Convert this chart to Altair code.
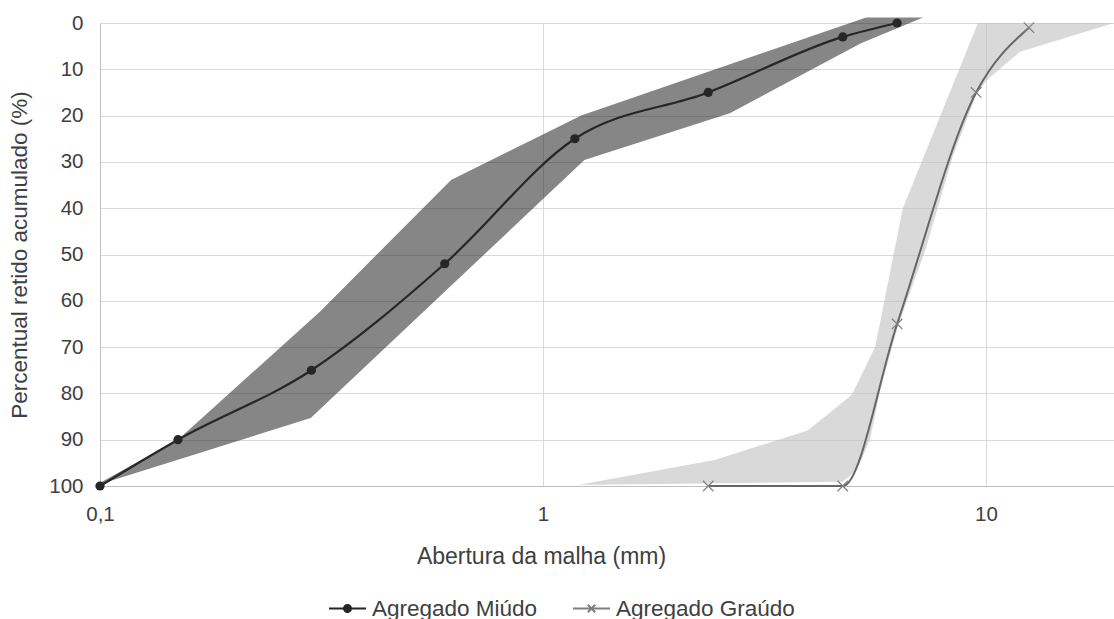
import altair as alt
import pandas as pd

# ---------------- data ----------------
serie_names = ["Agregado Miúdo", "Agregado Graúdo"]
serie_colors = ["#262626", "#7f7f7f"]

# Agregado Miúdo (fine aggregate) curve
miudo_x = [0.1, 0.15, 0.3, 0.6, 1.18, 2.36, 4.75, 6.3]
miudo_y = [100, 90, 75, 52, 25, 15, 3, 0]

# Agregado Graúdo (coarse aggregate) curve
graudo_x = [2.36, 4.75, 6.3, 9.5, 12.5]
graudo_y = [100, 100, 65, 15, 1]

# envelope of the fine aggregate (polygon vertices, in drawing order)
faixa_miudo_x = [0.097, 0.15, 0.314, 0.62, 1.22, 5.36, 7.21, 5.22, 2.64, 1.24, 0.299, 0.097]
faixa_miudo_y = [100, 90, 62.3, 33.9, 20, -1.2, -1.2, 4.4, 19.5, 29.6, 85.3, 100]

# envelope of the coarse aggregate (polygon vertices, in drawing order)
faixa_graudo_x = [1.2, 2.44, 3.96, 4.98, 5.62, 6.49, 9.59, 19.45, 11.93, 10.05, 9.5,
                  8.4, 7.3, 6.35, 5.77, 5.47, 5.11, 4.75, 1.2]
faixa_graudo_y = [99.8, 94.4, 88, 80.3, 70, 40, 0, 0, 6.2, 12.3, 15.5,
                  29, 49, 65, 79.3, 90, 96.5, 99.1, 99.8]

x_ticks = [0.1, 1, 10]
x_tick_labels = ["0,1", "1", "10"]
y_ticks = list(range(0, 101, 10))
x_domain = [0.1, 19.45]

# ---------------- frames ----------------
df_miudo = pd.DataFrame({"x": miudo_x, "y": miudo_y, "serie": serie_names[0]})
df_graudo = pd.DataFrame({"x": graudo_x, "y": graudo_y, "serie": serie_names[1]})
df_fm = pd.DataFrame({"x": faixa_miudo_x, "y": faixa_miudo_y, "i": range(len(faixa_miudo_x))})
df_fg = pd.DataFrame({"x": faixa_graudo_x, "y": faixa_graudo_y, "i": range(len(faixa_graudo_x))})

FONT = "Liberation Sans"
TXT = "#404040"

label_expr = ""
for v, lab in zip(x_ticks, x_tick_labels):
    label_expr += f"abs(datum.value - {v}) < 1e-6 ? '{lab}' : "
label_expr += "''"

xscale = alt.Scale(type="log", domain=x_domain, nice=False)
yscale = alt.Scale(domain=[0, 100], reverse=True, nice=False, zero=False)

xaxis = alt.Axis(values=x_ticks, labelExpr=label_expr, title="Abertura da malha (mm)",
                 grid=True, gridColor="#d9d9d9", ticks=False, domainColor="#bfbfbf",
                 labelFontSize=20.5, labelFont=FONT, labelColor=TXT, labelPadding=18,
                 labelFlush=False, labelOverlap=False,
                 titleFontSize=23, titleFont=FONT, titleColor=TXT, titleFontWeight="normal",
                 titleX=441, titleY=70, titleBaseline="middle", titleAnchor="middle")
yaxis = alt.Axis(values=y_ticks, title="Percentual retido acumulado (%)",
                 grid=True, gridColor="#d9d9d9", ticks=False, domainColor="#bfbfbf",
                 labelFontSize=20.5, labelFont=FONT, labelColor=TXT, labelPadding=17,
                 labelFlush=False, labelOverlap=False,
                 titleFontSize=22.5, titleFont=FONT, titleColor=TXT, titleFontWeight="normal",
                 titlePadding=17)

X = alt.X("x:Q", scale=xscale, axis=xaxis)
Y = alt.Y("y:Q", scale=yscale, axis=yaxis)
Xn = alt.X("x:Q", scale=xscale)
Yn = alt.Y("y:Q", scale=yscale)

band_g = alt.Chart(df_fg).mark_line(fill="#bfbfbf", fillOpacity=0.6, strokeWidth=0, clip=False).encode(
    x=X, y=Y, order="i:Q")
band_m = alt.Chart(df_fm).mark_line(fill="#0d0d0d", fillOpacity=0.5, strokeWidth=0, clip=False).encode(
    x=Xn, y=Yn, order="i:Q")

line_m = alt.Chart(df_miudo).mark_line(color="#262626", strokeWidth=2.2, interpolate="monotone").encode(
    x=Xn, y=Yn)
line_g = alt.Chart(df_graudo).mark_line(color="#666666", strokeWidth=2, interpolate="monotone", clip=False).encode(
    x=Xn, y=Yn)

pts_m = alt.Chart(df_miudo).mark_circle(color="#262626", size=85, opacity=1).encode(x=Xn, y=Yn)
pts_g = alt.Chart(df_graudo).mark_point(shape="M-1,-1L1,1M-1,1L1,-1", size=110, color="#7f7f7f",
                                        strokeWidth=1.2, opacity=1, clip=False).encode(x=Xn, y=Yn)

# legend symbols: a short line with a filled dot / with a cross (stroked paths)
dot_path = ("M-1,0L1,0"
            "M-0.19,0A0.19,0.19 0 1,0 0.19,0A0.19,0.19 0 1,0 -0.19,0"
            "M-0.12,0A0.12,0.12 0 1,0 0.12,0A0.12,0.12 0 1,0 -0.12,0"
            "M-0.05,0A0.05,0.05 0 1,0 0.05,0A0.05,0.05 0 1,0 -0.05,0")
cross_path = "M-1,0L1,0M-0.2,-0.2L0.2,0.2M-0.2,0.2L0.2,-0.2"

legend_def = alt.Legend(orient="none", legendX=228, legendY=566, direction="horizontal",
                        title=None, labelFontSize=22.5, labelFont=FONT, labelColor=TXT,
                        labelLimit=0, symbolSize=1369, symbolStrokeWidth=2,
                        labelOffset=5, columnPadding=31, padding=0, symbolOffset=0)

legend_layer = alt.Chart(alt.Data(values=[])).mark_point(
    filled=False, strokeWidth=2, opacity=1, size=1369).encode(
    shape=alt.Shape("serie:N", scale=alt.Scale(domain=serie_names, range=[dot_path, cross_path]),
                    legend=legend_def),
    color=alt.Color("serie:N", scale=alt.Scale(domain=serie_names, range=serie_colors),
                    legend=legend_def))

chart = alt.layer(band_g, band_m, line_g, line_m, pts_g, pts_m, legend_layer).properties(
    width=1014, height=463,
    autosize=alt.AutoSizeParams(type="none"),
    padding={"left": 100, "top": 23, "right": 0, "bottom": 133},
    background="white",
).configure_view(strokeWidth=0)

chart.save("out.html", embed_options={"renderer": "svg", "actions": False})
